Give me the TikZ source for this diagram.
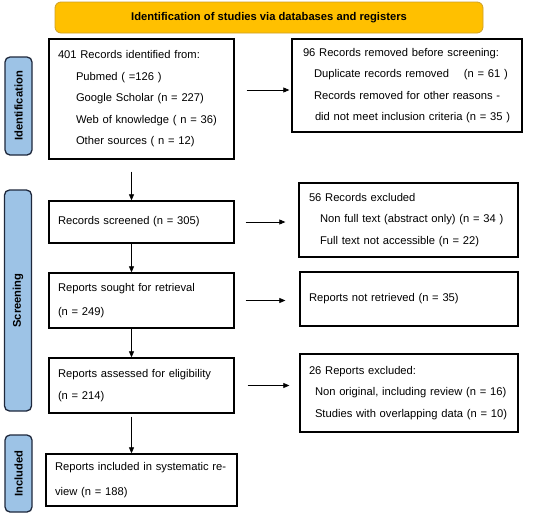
\documentclass[tikz,border=0pt]{standalone}
\usepackage{fontspec}
\setmainfont{Liberation Sans}
\usepackage{tikz}
\usetikzlibrary{calc,arrows.meta}

\definecolor{bannerfill}{RGB}{255,192,0}
\definecolor{bannerline}{RGB}{205,160,40}
\definecolor{phasefill}{RGB}{157,195,230}
\definecolor{phaseline}{RGB}{30,40,60}
\newcommand{\ind}[1]{\hspace*{#1pt}}

\begin{document}
\begin{tikzpicture}[x=1pt,y=-1pt,
    txt/.style={font={\fontsize{11.2}{21.5}\selectfont}},
    box/.style={txt,draw,line width=1.3pt,align=left,inner xsep=1pt,inner ysep=2pt},
    banner/.style={draw=bannerline,fill=bannerfill,line width=0.8pt,rounded corners=6pt,
      font={\fontsize{11.2}{13}\selectfont\bfseries},minimum width=428,minimum height=31},
    phase/.style={draw=phaseline,fill=phasefill,line width=1.3pt,rounded corners=5pt,rotate=90,
      font={\fontsize{11.2}{13}\selectfont\bfseries},minimum height=27,inner sep=0pt},
    arr/.style={line width=0.7pt,-{Triangle[length=6pt,width=5pt]}}]
        \useasboundingbox (0,0) rectangle (550,515);
        \begin{scope}
          % header and phase labels
          \node[banner] (HEAD) at (269,17.5) {Identification of studies via databases and registers};
          \node[phase,minimum width=98] (PID) at (18.5,106) {Identification};
          \node[phase,minimum width=221] (PSC) at (18,300.5) {Screening};
          \node[phase,minimum width=77] (PIN) at (18.5,473.5) {Included};

          % left column
          \node[box,minimum height=120,text width=183] (IDF) at (141.5,99)
            {\ind{8}401 Records identified from:\\
             \ind{26}Pubmed ( =126 )\\
             \ind{26}Google Scholar (n = 227)\\
             \ind{26}Web of knowledge ( n = 36)\\
             \ind{26}Other sources ( n = 12)};
          \node[box,minimum height=42,text width=183] (SCR) at (141.5,222)
            {\ind{8}Records screened (n = 305)};
          \node[box,minimum height=55,text width=183,
                font={\fontsize{11.2}{24.5}\selectfont}] (SOU) at (141.5,300.5)
            {\ind{8}Reports sought for retrieval\\\ind{8}(n = 249)};
          \node[box,minimum height=55,text width=183] (ELI) at (141.5,385.5)
            {\ind{8}Reports assessed for eligibility\\\ind{8}(n = 214)};
          \node[box,minimum height=52,text width=189,
                font={\fontsize{11.2}{24.5}\selectfont}] (INC) at (141.5,480)
            {\ind{8}Reports included in systematic re-\\\ind{8}view (n = 188)};

          % right column
          \node[box,minimum height=93,text width=228] (REM) at (407,85.5)
            {\ind{10}96 Records removed before screening:\\
             \ind{21}Duplicate records removed\quad\ (n = 61 )\\
             \ind{21}Records removed for other reasons -\\
             \ind{22}did not meet inclusion criteria (n = 35 )};
          \node[box,minimum height=74,text width=217] (EXC) at (408.5,220)
            {\ind{9}56 Records excluded\\
             \ind{20}Non full text (abstract only) (n = 34 )\\
             \ind{20}Full text not accessible (n = 22)};
          \node[box,minimum height=54,text width=216] (NRT) at (409,299)
            {\ind{8}Reports not retrieved (n = 35)};
          \node[box,minimum height=78,text width=216] (REX) at (409,393)
            {\ind{8}26 Reports excluded:\\
             \ind{14}Non original, including review (n = 16)\\
             \ind{14}Studies with overlapping data (n = 10)};

          % flow downwards
          \draw ([xshift=-10pt]IDF.south) edge[arr,shorten <=12pt] ([xshift=-10pt]SCR.north);
          \draw ([xshift=-10pt]SCR.south) edge[arr] ([xshift=-10pt]SOU.north);
          \draw ([xshift=-10pt]SOU.south) edge[arr] ([xshift=-10pt]ELI.north);
          \draw ([xshift=-10pt]ELI.south) edge[arr,shorten <=3pt] ([xshift=-10pt]INC.north);

          % exclusions
          \draw ([yshift=-4.5pt]IDF.east |- REM.west) edge[arr,shorten <=12pt,shorten >=2pt] ([yshift=-4.5pt]REM.west);
          \draw (SCR.east) edge[arr,shorten <=11pt,shorten >=13pt] (SCR.east -| EXC.west);
          \draw (SOU.east) edge[arr,shorten <=11pt,shorten >=14pt] (SOU.east -| NRT.west);
          \draw (ELI.east) edge[arr,shorten <=13pt,shorten >=10pt] (ELI.east -| REX.west);
        \end{scope}
      \end{tikzpicture}
\end{document}
